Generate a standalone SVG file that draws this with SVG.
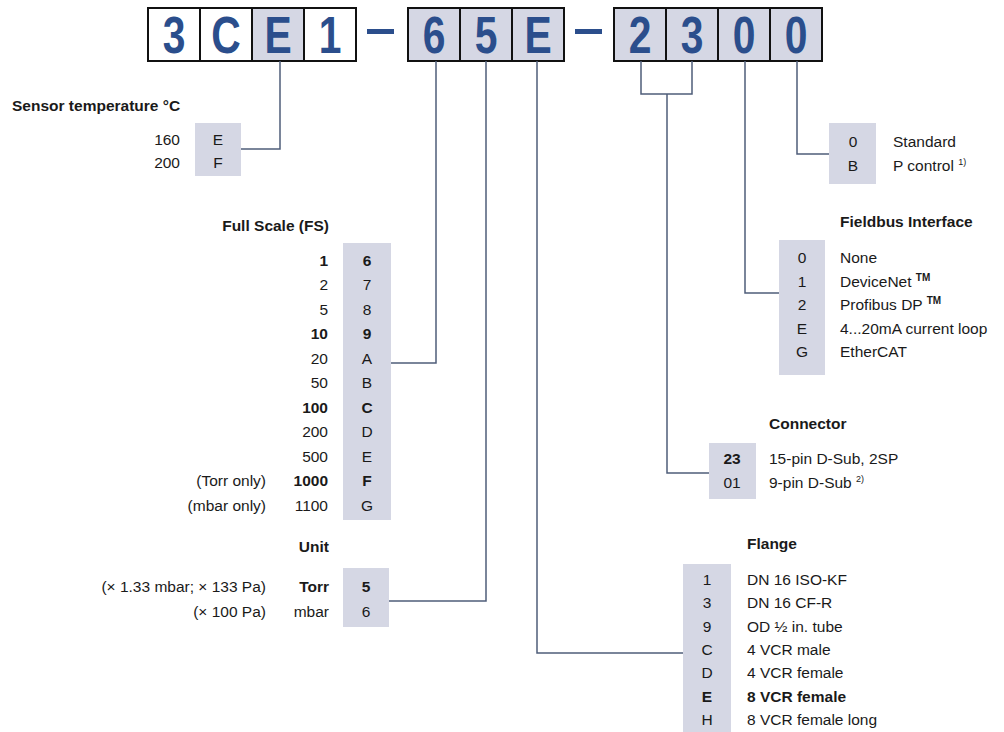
<svg xmlns="http://www.w3.org/2000/svg" width="1004" height="732" viewBox="0 0 1004 732">
<style>
.bg{fill:#ffffff}
.cell{stroke:#111;stroke-width:2}
.w{fill:#ffffff}
.g{fill:#d5d7e4}
.big{font-family:"Liberation Sans",Arial,sans-serif;font-weight:bold;font-size:51px;fill:#2b4e8c;text-anchor:middle}
.dash{fill:#2b4e8c}
.t{font-family:"Liberation Sans",Arial,sans-serif;font-size:15.5px;fill:#1a1a1a}
.b{font-weight:bold}
.h{font-family:"Liberation Sans",Arial,sans-serif;font-size:15.5px;font-weight:bold;fill:#1a1a1a}
.r{text-anchor:end}
.m{text-anchor:middle}
.box{fill:#d5d7e4}
.ln{fill:none;stroke:#4f5d7a;stroke-width:1.5}
</style>
<rect class="bg" x="0" y="0" width="1004" height="732"/>

<g id="code">
  <rect class="cell w" x="148" y="8" width="52" height="53"/>
  <rect class="cell w" x="200" y="8" width="52" height="53"/>
  <rect class="cell g" x="252" y="8" width="52" height="53"/>
  <rect class="cell w" x="304" y="8" width="52" height="53"/>
  <rect class="dash" x="367" y="29" width="27" height="5"/>
  <rect class="cell g" x="408" y="8" width="52" height="53"/>
  <rect class="cell g" x="460" y="8" width="52" height="53"/>
  <rect class="cell g" x="512" y="8" width="52" height="53"/>
  <rect class="dash" x="575" y="29" width="27" height="5"/>
  <rect class="cell g" x="614" y="8" width="52" height="53"/>
  <rect class="cell g" x="666" y="8" width="52" height="53"/>
  <rect class="cell g" x="718" y="8" width="52" height="53"/>
  <rect class="cell g" x="770" y="8" width="52" height="53"/>
  <text class="big" transform="translate(174,52.5) scale(0.8,1)">3</text>
  <text class="big" transform="translate(226,52.5) scale(0.8,1)">C</text>
  <text class="big" transform="translate(278,52.5) scale(0.8,1)">E</text>
  <text class="big" transform="translate(330,52.5) scale(0.8,1)">1</text>
  <text class="big" transform="translate(434,52.5) scale(0.8,1)">6</text>
  <text class="big" transform="translate(486,52.5) scale(0.8,1)">5</text>
  <text class="big" transform="translate(538,52.5) scale(0.8,1)">E</text>
  <text class="big" transform="translate(640,52.5) scale(0.8,1)">2</text>
  <text class="big" transform="translate(692,52.5) scale(0.8,1)">3</text>
  <text class="big" transform="translate(744,52.5) scale(0.8,1)">0</text>
  <text class="big" transform="translate(796,52.5) scale(0.8,1)">0</text>
</g>

<g id="connectors">
  <polyline class="ln" points="280,61 280,149 241,149"/>
  <polyline class="ln" points="436,61 436,363 391,363"/>
  <polyline class="ln" points="486,61 486,601 389,601"/>
  <polyline class="ln" points="537,61 537,653 683,653"/>
  <polyline class="ln" points="641,61 641,94 692,94 692,61"/>
  <polyline class="ln" points="667,94 667,473 709,473"/>
  <polyline class="ln" points="745,61 745,293 779,293"/>
  <polyline class="ln" points="797,61 797,154 829,154"/>
</g>

<g id="sensor-temperature">
  <text class="h" x="12" y="111">Sensor temperature °C</text>
  <rect class="box" x="195" y="123" width="46" height="53"/>
  <text class="t r" x="180" y="145">160</text>
  <text class="t r" x="180" y="168">200</text>
  <text class="t m" x="218" y="145">E</text>
  <text class="t m" x="218" y="168">F</text>
</g>

<g id="full-scale">
  <text class="h r" x="329" y="231">Full Scale (FS)</text>
  <rect class="box" x="343" y="243" width="48" height="277"/>
  <text class="t r b" x="328" y="265.5">1</text>
  <text class="t r" x="328" y="290">2</text>
  <text class="t r" x="328" y="314.5">5</text>
  <text class="t r b" x="328" y="339">10</text>
  <text class="t r" x="328" y="363.5">20</text>
  <text class="t r" x="328" y="388">50</text>
  <text class="t r b" x="328" y="412.5">100</text>
  <text class="t r" x="328" y="437">200</text>
  <text class="t r" x="328" y="461.5">500</text>
  <text class="t r b" x="328" y="486">1000</text>
  <text class="t r" x="328" y="510.5">1100</text>
  <text class="t r" x="266" y="486">(Torr only)</text>
  <text class="t r" x="266" y="510.5">(mbar only)</text>
  <text class="t m b" x="367" y="265.5">6</text>
  <text class="t m" x="367" y="290">7</text>
  <text class="t m" x="367" y="314.5">8</text>
  <text class="t m b" x="367" y="339">9</text>
  <text class="t m" x="367" y="363.5">A</text>
  <text class="t m" x="367" y="388">B</text>
  <text class="t m b" x="367" y="412.5">C</text>
  <text class="t m" x="367" y="437">D</text>
  <text class="t m" x="367" y="461.5">E</text>
  <text class="t m b" x="367" y="486">F</text>
  <text class="t m" x="367" y="510.5">G</text>
</g>

<g id="unit">
  <text class="h r" x="329" y="552">Unit</text>
  <rect class="box" x="343" y="568" width="46" height="59"/>
  <text class="t r" x="266" y="592">(× 1.33 mbar; × 133 Pa)</text>
  <text class="t r" x="266" y="617">(× 100 Pa)</text>
  <text class="t r b" x="329" y="592">Torr</text>
  <text class="t r" x="329" y="617">mbar</text>
  <text class="t m b" x="366" y="592">5</text>
  <text class="t m" x="366" y="617">6</text>
</g>

<g id="option">
  <rect class="box" x="829" y="123" width="47" height="61"/>
  <text class="t m" x="853" y="147">0</text>
  <text class="t m" x="853" y="171">B</text>
  <text class="t" x="893" y="147">Standard</text>
  <text class="t" x="893" y="171">P control <tspan font-size="9" dy="-6">1)</tspan></text>
</g>

<g id="fieldbus">
  <text class="h" x="840" y="227">Fieldbus Interface</text>
  <rect class="box" x="779" y="240" width="46" height="135"/>
  <text class="t m" x="802" y="263">0</text>
  <text class="t m" x="802" y="286.5">1</text>
  <text class="t m" x="802" y="310">2</text>
  <text class="t m" x="802" y="333.5">E</text>
  <text class="t m" x="802" y="357">G</text>
  <text class="t" x="840" y="263">None</text>
  <text class="t" x="840" y="286.5">DeviceNet <tspan font-size="10" font-weight="bold" dy="-6">TM</tspan></text>
  <text class="t" x="840" y="310">Profibus DP <tspan font-size="10" font-weight="bold" dy="-6">TM</tspan></text>
  <text class="t" x="840" y="333.5">4...20mA current loop</text>
  <text class="t" x="840" y="357">EtherCAT</text>
</g>

<g id="connector">
  <text class="h" x="769" y="429">Connector</text>
  <rect class="box" x="709" y="443" width="47" height="56"/>
  <text class="t m b" x="732" y="464">23</text>
  <text class="t m" x="732" y="488">01</text>
  <text class="t" x="769" y="464">15-pin D-Sub, 2SP</text>
  <text class="t" x="769" y="488">9-pin D-Sub <tspan font-size="9" dy="-6">2)</tspan></text>
</g>

<g id="flange">
  <text class="h" x="747" y="549">Flange</text>
  <rect class="box" x="683" y="564" width="48" height="168"/>
  <text class="t m" x="707" y="585">1</text>
  <text class="t m" x="707" y="608.3">3</text>
  <text class="t m" x="707" y="631.6">9</text>
  <text class="t m" x="707" y="654.9">C</text>
  <text class="t m" x="707" y="678.2">D</text>
  <text class="t m b" x="707" y="701.5">E</text>
  <text class="t m" x="707" y="724.8">H</text>
  <text class="t" x="747" y="585">DN 16 ISO-KF</text>
  <text class="t" x="747" y="608.3">DN 16 CF-R</text>
  <text class="t" x="747" y="631.6">OD ½ in. tube</text>
  <text class="t" x="747" y="654.9">4 VCR male</text>
  <text class="t" x="747" y="678.2">4 VCR female</text>
  <text class="t b" x="747" y="701.5">8 VCR female</text>
  <text class="t" x="747" y="724.8">8 VCR female long</text>
</g>
</svg>
